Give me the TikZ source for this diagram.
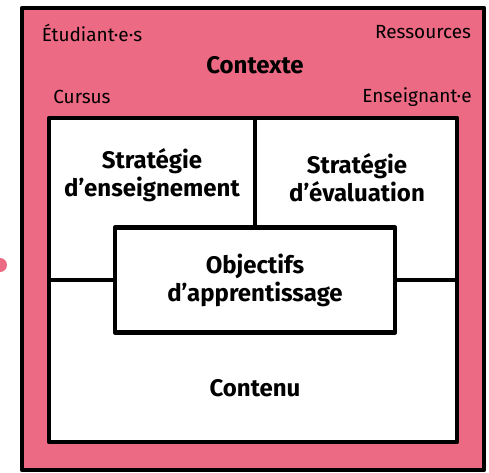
\documentclass[tikz,border=0pt]{standalone}
\usepackage{fontspec}
\setmainfont{Fira Sans}
\definecolor{rose}{RGB}{236,106,131}
\begin{document}
\begin{tikzpicture}[x=1pt, y=-1pt, line width=4.5pt, line join=round,
    lbl/.style={font=\fontsize{19}{21}\selectfont},
    titre/.style={font=\fontsize{24}{28}\selectfont\bfseries, align=center}]
    \useasboundingbox (0,0) rectangle (489,472);
    \fill[rose] (0,265) circle (7pt);
    % cadres
    \draw[fill=rose] (22,8) rectangle (484,470);
    \draw[fill=white] (49,118) rectangle (457,442);
    \coordinate (haut) at (255,118);
    \coordinate (gauche) at (49,280);
    \coordinate (droite) at (457,280);
    \node[draw, fill=white, titre, minimum width=280pt, minimum height=105pt] (obj) at (255,280) {Objectifs\\d’apprentissage};
    \draw (haut) -- (obj.north);
    \draw (gauche) -- (obj.west);
    \draw (obj.east) -- (droite);
    % textes
    \node[lbl] (etu) at (92,33) {Étudiant·e·s};
    \node[lbl] (res) at (423,32) {Ressources};
    \node[titre] (ctx) at (255,65) {Contexte};
    \node[lbl] (cur) at (82,97) {Cursus};
    \node[lbl] (ens) at (417,97) {Enseignant·e};
    \node[titre] (strens) at (152,175) {Stratégie\\d’enseignement};
    \node[titre] (streva) at (357,178) {Stratégie\\d’évaluation};
    \node[titre] (cnt) at (255,388) {Contenu};
\end{tikzpicture}
\end{document}
